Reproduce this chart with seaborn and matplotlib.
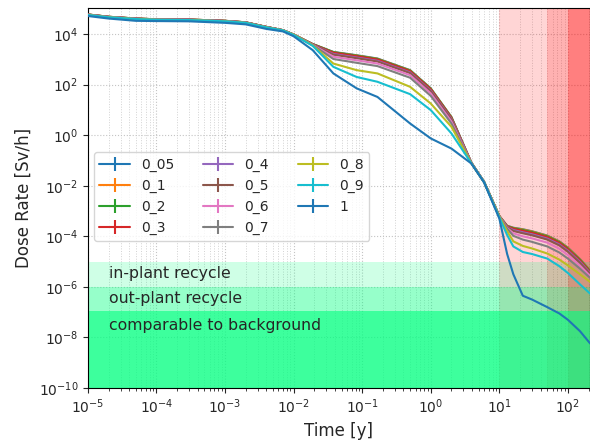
import matplotlib
matplotlib.use("Agg")
import matplotlib.pyplot as plt
import numpy as np
import pandas as pd
import seaborn as sns

# time grid [y]
time_y = [1e-5, 2e-5, 5e-5, 1e-4, 3e-4, 1e-3, 2e-3, 4e-3, 7e-3, 1e-2,
          0.019, 0.038, 0.083, 0.167, 0.5, 1.0, 2.0, 3.9, 6.0,
          10.0, 13.0, 16.0, 22.0, 30.0, 50.0, 75.0, 100.0, 150.0, 210.0]

# dose rate as log10(Sv/h)
logdose_0_05 = [4.77, 4.68, 4.61, 4.58, 4.57, 4.52, 4.46, 4.28, 4.15, 3.98,
                3.60, 3.29, 3.16, 3.03, 2.57, 1.85, 0.72, -1.08, -1.85,
                -3.20, -3.58, -3.66, -3.72, -3.80, -3.97, -4.20, -4.45, -4.90, -5.34]
logdose_0_1 = [4.77, 4.68, 4.61, 4.58, 4.57, 4.52, 4.46, 4.28, 4.15, 3.98,
               3.60, 3.28, 3.15, 3.02, 2.56, 1.84, 0.71, -1.08, -1.85,
               -3.20, -3.59, -3.67, -3.73, -3.81, -3.98, -4.21, -4.46, -4.91, -5.35]
logdose_0_2 = [4.77, 4.68, 4.61, 4.58, 4.57, 4.52, 4.46, 4.28, 4.15, 3.98,
               3.60, 3.28, 3.14, 3.01, 2.55, 1.83, 0.70, -1.09, -1.85,
               -3.20, -3.60, -3.68, -3.75, -3.83, -4.00, -4.23, -4.48, -4.93, -5.37]
logdose_0_3 = [4.77, 4.68, 4.61, 4.58, 4.57, 4.52, 4.46, 4.28, 4.15, 3.98,
               3.59, 3.26, 3.12, 2.99, 2.53, 1.81, 0.68, -1.09, -1.85,
               -3.20, -3.61, -3.70, -3.78, -3.86, -4.03, -4.26, -4.51, -4.96, -5.40]
logdose_0_4 = [4.76, 4.67, 4.60, 4.57, 4.56, 4.51, 4.45, 4.27, 4.15, 3.97,
               3.58, 3.21, 3.07, 2.94, 2.48, 1.76, 0.64, -1.09, -1.85,
               -3.21, -3.63, -3.75, -3.84, -3.92, -4.09, -4.32, -4.57, -5.01, -5.44]
logdose_0_5 = [4.76, 4.67, 4.60, 4.57, 4.56, 4.51, 4.45, 4.27, 4.14, 3.97,
               3.58, 3.18, 3.04, 2.91, 2.45, 1.73, 0.61, -1.10, -1.86,
               -3.21, -3.64, -3.79, -3.88, -3.96, -4.13, -4.36, -4.61, -5.05, -5.48]
logdose_0_6 = [4.76, 4.67, 4.60, 4.57, 4.56, 4.51, 4.45, 4.27, 4.14, 3.97,
               3.57, 3.10, 2.96, 2.83, 2.37, 1.65, 0.54, -1.10, -1.86,
               -3.21, -3.67, -3.88, -4.00, -4.08, -4.25, -4.49, -4.74, -5.16, -5.56]
logdose_0_7 = [4.76, 4.67, 4.60, 4.57, 4.56, 4.51, 4.45, 4.27, 4.14, 3.97,
               3.56, 3.01, 2.86, 2.73, 2.27, 1.55, 0.46, -1.10, -1.86,
               -3.21, -3.70, -3.98, -4.13, -4.22, -4.40, -4.64, -4.88, -5.28, -5.64]
logdose_0_8 = [4.75, 4.66, 4.59, 4.56, 4.55, 4.50, 4.44, 4.26, 4.14, 3.97,
               3.55, 2.83, 2.57, 2.44, 1.91, 1.25, 0.33, -1.11, -1.86,
               -3.22, -3.80, -4.20, -4.38, -4.48, -4.68, -4.92, -5.15, -5.50, -5.80]
logdose_0_9 = [4.75, 4.66, 4.59, 4.56, 4.55, 4.50, 4.44, 4.26, 4.14, 3.96,
               3.53, 2.70, 2.30, 2.11, 1.62, 0.99, 0.07, -1.11, -1.86,
               -3.25, -3.95, -4.40, -4.62, -4.70, -4.88, -5.18, -5.45, -5.90, -6.26]
logdose_1 = [4.71, 4.61, 4.52, 4.51, 4.50, 4.44, 4.38, 4.20, 4.10, 3.91,
             3.36, 2.44, 1.85, 1.51, 0.46, -0.13, -0.53, -1.12, -1.87,
             -3.30, -4.70, -5.50, -6.35, -6.50, -6.80, -7.05, -7.30, -7.75, -8.23]

series_names = ["0_05", "0_1", "0_2", "0_3", "0_4", "0_5", "0_6", "0_7", "0_8", "0_9", "1"]
series_logdose = [logdose_0_05, logdose_0_1, logdose_0_2, logdose_0_3, logdose_0_4, logdose_0_5,
                  logdose_0_6, logdose_0_7, logdose_0_8, logdose_0_9, logdose_1]

# limits for the shaded zones [Sv/h] and cooling times [y]
in_plant_limit = 1e-5
out_plant_limit = 1e-6
background_limit = 1.14e-7
cooling_marks = [10.0, 50.0, 100.0]
zone_labels = ["in-plant recycle", "out-plant recycle", "comparable to background"]
zone_label_y = [3.5e-6, 3.6e-7, 3.0e-8]

rows = []
for name, logd in zip(series_names, series_logdose):
    for t, ld in zip(time_y, logd):
        rows.append({"time": t, "dose": 10 ** ld, "case": name})
df = pd.DataFrame(rows)

sns.set_style("ticks")
palette = sns.color_palette("tab10", 10)
palette = palette + [palette[0]]

fig = plt.figure(figsize=(5.9, 4.41), dpi=100)
ax = fig.add_axes([0.149, 0.120, 0.851, 0.862])

sns.lineplot(data=df, x="time", y="dose", hue="case", hue_order=series_names,
             palette=palette, linewidth=1.5, legend=False, ax=ax, zorder=3)

ax.set_xscale("log")
ax.set_yscale("log")

# shaded zones: red cooling-time spans under the green dose-level spans
for xs, a in zip(cooling_marks, [0.165, 0.17, 0.28]):
    ax.axvspan(xs, 1e4, color="red", alpha=a, lw=0, zorder=1)
ax.axhspan(out_plant_limit, in_plant_limit, color="springgreen", alpha=0.19, lw=0, zorder=1.5)
ax.axhspan(background_limit, out_plant_limit, color="springgreen", alpha=0.41, lw=0, zorder=1.5)
ax.axhspan(1e-12, background_limit, color="springgreen", alpha=0.76, lw=0, zorder=1.5)

for txt, yy in zip(zone_labels, zone_label_y):
    ax.text(2e-5, yy, txt, fontsize=11.3, va="center", ha="left", zorder=4)

# legend with errorbar-style handles
handles = []
for name, col in zip(series_names, palette):
    h = ax.errorbar([], [], yerr=[], color=col, label=name)
    handles.append(h)
ax.legend(handles=handles, labels=series_names, ncol=3, loc="upper left",
          bbox_to_anchor=(0.012, 0.62), borderaxespad=0, fontsize=10, framealpha=0.8,
          columnspacing=2.05, handlelength=2.2)

ax.set_xlim(1e-5, 210)
ax.set_ylim(1e-10, 1.07e5)
ax.set_yticks([1e-10, 1e-8, 1e-6, 1e-4, 1e-2, 1e0, 1e2, 1e4])
ax.yaxis.set_minor_locator(matplotlib.ticker.NullLocator())
ax.set_axisbelow(True)
ax.grid(which="major", ls=":", color="#c4c4c4", lw=0.8)
ax.grid(which="minor", axis="x", ls=":", color="#d2d2d2", lw=0.7)

for sp in ax.spines.values():
    sp.set_color("black")
ax.set_xlabel("Time [y]", fontsize=12)
ax.set_ylabel("Dose Rate [Sv/h]", fontsize=12)
ax.tick_params(labelsize=10)

fig.savefig("out.png", dpi=100)
